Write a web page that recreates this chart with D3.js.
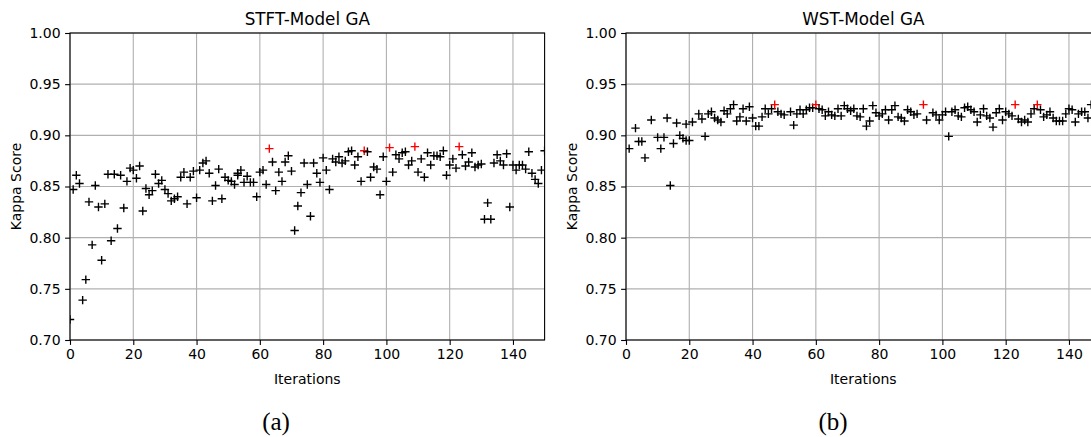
<!DOCTYPE html>
<html>
<head>
<meta charset="utf-8">
<script src="https://cdn.jsdelivr.net/npm/d3@7"></script>
<style>
  html, body { margin: 0; padding: 0; background: #fff; }
  svg { display: block; }
  text { font-family: "DejaVu Sans", sans-serif; fill: #000; }
  .caption { font-family: "Liberation Serif", "DejaVu Serif", serif; }
</style>
</head>
<body>
<svg id="fig" width="1091" height="437"></svg>
<script>
// Axis ticks shared by both panels
const xTicks = [0, 20, 40, 60, 80, 100, 120, 140];
const yTicks = [0.70, 0.75, 0.80, 0.85, 0.90, 0.95, 1.00];

// STFT model: kappa score of each evaluated individual per GA iteration
const stftIter = [
  0, 1, 2, 3, 4, 5, 6, 7, 8, 9, 10, 11, 12, 13, 14, 15, 16, 17, 18, 19,
  20, 21, 22, 23, 24, 25, 26, 27, 28, 29, 30, 31, 32, 33, 34, 35, 36, 37, 38, 39,
  40, 41, 42, 43, 44, 45, 46, 47, 48, 49, 50, 51, 52, 53, 53, 54, 55, 56, 57, 58, 59,
  60, 61, 62, 63, 64, 65, 66, 67, 68, 69, 70, 71, 72, 73, 74, 75, 76, 77, 78, 79,
  80, 81, 82, 83, 84, 85, 86, 87, 88, 89, 90, 91, 92, 93, 94, 95, 96, 97, 98, 99,
  100, 101, 102, 103, 104, 105, 106, 107, 108, 109, 110, 111, 112, 113, 114, 115, 116, 117, 118, 119,
  120, 121, 122, 123, 124, 125, 126, 127, 128, 129, 130, 131, 132, 133, 134, 135, 136, 137, 138, 139,
  140, 141, 142, 143, 144, 145, 146, 147, 148, 149, 150
];
const stftKappa = [
  0.720, 0.847, 0.861, 0.853, 0.739, 0.759, 0.835, 0.793, 0.851, 0.830, 0.778, 0.833, 0.862, 0.797, 0.862, 0.809, 0.861, 0.829, 0.855, 0.868,
  0.866, 0.858, 0.870, 0.826, 0.848, 0.842, 0.846, 0.862, 0.853, 0.856, 0.847, 0.843, 0.836, 0.838, 0.840, 0.859, 0.864, 0.833, 0.859, 0.865,
  0.839, 0.866, 0.873, 0.875, 0.863, 0.836, 0.851, 0.867, 0.838, 0.859, 0.856, 0.855, 0.852, 0.861, 0.863, 0.866, 0.854, 0.860, 0.854, 0.854, 0.840,
  0.864, 0.866, 0.852, 0.887, 0.874, 0.846, 0.864, 0.855, 0.874, 0.880, 0.865, 0.807, 0.831, 0.844, 0.873, 0.852, 0.821, 0.873, 0.863, 0.854,
  0.878, 0.866, 0.847, 0.877, 0.874, 0.879, 0.873, 0.875, 0.884, 0.885, 0.871, 0.879, 0.855, 0.885, 0.884, 0.859, 0.869, 0.867, 0.842, 0.879,
  0.855, 0.888, 0.864, 0.881, 0.877, 0.883, 0.884, 0.871, 0.875, 0.889, 0.864, 0.877, 0.859, 0.883, 0.871, 0.880, 0.880, 0.879, 0.885, 0.861,
  0.871, 0.877, 0.868, 0.889, 0.881, 0.870, 0.874, 0.883, 0.869, 0.871, 0.872, 0.818, 0.834, 0.818, 0.873, 0.881, 0.875, 0.871, 0.882, 0.830,
  0.871, 0.866, 0.871, 0.871, 0.867, 0.884, 0.863, 0.857, 0.853, 0.866, 0.885
];
const stftBestIter = [63, 93, 101, 109, 123];

// WST model
const wstIter = [
  1, 3, 4, 5, 6, 8, 10, 11, 12, 13, 14, 15, 16, 17, 18, 19, 19, 20,
  21, 23, 24, 25, 26, 27, 28, 29, 30, 31, 32, 33, 34, 35, 36, 37, 38, 39, 40,
  41, 42, 43, 44, 45, 46, 47, 48, 49, 50, 52, 53, 54, 55, 56, 57, 58, 59, 60,
  61, 62, 63, 64, 65, 66, 67, 68, 69, 70, 71, 72, 73, 74, 75, 76, 77, 78, 79, 80,
  81, 82, 83, 84, 85, 86, 87, 88, 89, 90, 91, 92, 94, 95, 97, 98, 99, 100,
  101, 102, 103, 104, 105, 106, 107, 108, 109, 110, 111, 112, 113, 114, 115, 116, 117, 118, 119, 120,
  121, 122, 123, 124, 125, 126, 127, 128, 129, 130, 131, 132, 133, 134, 135, 136, 137, 138, 139, 140,
  141, 142, 143, 144, 145, 146, 147
];
const wstKappa = [
  0.887, 0.907, 0.894, 0.894, 0.878, 0.915, 0.898, 0.887, 0.898, 0.917, 0.851, 0.892, 0.912, 0.900, 0.897, 0.911, 0.895, 0.895,
  0.913, 0.921, 0.916, 0.899, 0.921, 0.923, 0.917, 0.915, 0.913, 0.924, 0.921, 0.926, 0.930, 0.914, 0.918, 0.926, 0.914, 0.928, 0.917,
  0.909, 0.909, 0.918, 0.926, 0.921, 0.926, 0.930, 0.923, 0.921, 0.920, 0.923, 0.910, 0.921, 0.925, 0.921, 0.925, 0.927, 0.927, 0.930,
  0.926, 0.925, 0.919, 0.923, 0.920, 0.919, 0.926, 0.919, 0.929, 0.926, 0.924, 0.926, 0.919, 0.918, 0.926, 0.909, 0.914, 0.929, 0.922, 0.919,
  0.921, 0.925, 0.915, 0.925, 0.929, 0.918, 0.917, 0.914, 0.925, 0.923, 0.920, 0.921, 0.930, 0.915, 0.922, 0.920, 0.915, 0.920,
  0.923, 0.899, 0.923, 0.925, 0.919, 0.918, 0.927, 0.928, 0.925, 0.923, 0.913, 0.920, 0.926, 0.919, 0.917, 0.908, 0.922, 0.926, 0.915, 0.923,
  0.921, 0.919, 0.930, 0.916, 0.913, 0.915, 0.913, 0.921, 0.926, 0.930, 0.925, 0.918, 0.920, 0.923, 0.917, 0.914, 0.914, 0.914, 0.921, 0.926,
  0.925, 0.913, 0.921, 0.923, 0.923, 0.917, 0.930
];
const wstBestIter = [47, 60, 94, 123, 130];

const svg = d3.select("#fig");
svg.append("rect").attr("width", 1091).attr("height", 437).attr("fill", "#fff");

const plotTop = 33, plotBottom = 340, plotWidth = 474.6;

function drawPanel(id, left, title, caption, captionX, iters, kappas, bestIters) {
  const x = d3.scaleLinear().domain([0, 150]).range([left, left + plotWidth]);
  const y = d3.scaleLinear().domain([0.70, 1.00]).range([plotBottom, plotTop]);
  const g = svg.append("g");

  // grid
  g.append("g").selectAll("line").data(xTicks).join("line")
    .attr("x1", d => x(d)).attr("x2", d => x(d))
    .attr("y1", plotTop).attr("y2", plotBottom)
    .attr("stroke", "#b0b0b0").attr("stroke-width", 1.1);
  g.append("g").selectAll("line").data(yTicks).join("line")
    .attr("x1", left).attr("x2", left + plotWidth)
    .attr("y1", d => y(d)).attr("y2", d => y(d))
    .attr("stroke", "#b0b0b0").attr("stroke-width", 1.1);

  // markers, clipped to the axes area
  const clipId = "clip-" + id;
  svg.append("defs").append("clipPath").attr("id", clipId)
    .append("rect").attr("x", left).attr("y", plotTop)
    .attr("width", plotWidth).attr("height", plotBottom - plotTop);
  const pts = iters.map((it, i) => ({ it, k: kappas[i], best: bestIters.includes(it) }));
  const s = 4.2;
  g.append("g").attr("clip-path", `url(#${clipId})`)
    .selectAll("path").data(pts).join("path")
    .attr("d", d => {
      const cx = x(d.it), cy = y(d.k);
      return `M${cx - s},${cy}H${cx + s}M${cx},${cy - s}V${cy + s}`;
    })
    .attr("fill", "none")
    .attr("stroke", d => d.best ? "#ff0000" : "#000")
    .attr("stroke-width", 1.4);

  // axes
  const xAxis = d3.axisBottom(x).tickValues(xTicks).tickFormat(d3.format("d"))
    .tickSizeOuter(0).tickSize(4.9).tickPadding(4.5);
  const yAxis = d3.axisLeft(y).tickValues(yTicks).tickFormat(d3.format(".2f"))
    .tickSizeOuter(0).tickSize(4.9).tickPadding(4.5);
  const gx = g.append("g").attr("transform", `translate(0,${plotBottom})`).call(xAxis);
  const gy = g.append("g").attr("transform", `translate(${left},0)`).call(yAxis);
  [gx, gy].forEach(a => {
    a.select(".domain").remove();
    a.selectAll(".tick line").attr("stroke", "#000").attr("stroke-width", 1.1);
    a.selectAll(".tick text").attr("font-family", "DejaVu Sans").attr("font-size", 14).attr("fill", "#000");
  });

  // spines
  g.append("rect").attr("x", left).attr("y", plotTop)
    .attr("width", plotWidth).attr("height", plotBottom - plotTop)
    .attr("fill", "none").attr("stroke", "#000").attr("stroke-width", 1.1);

  // labels
  g.append("text").attr("x", left + plotWidth / 2).attr("y", 25)
    .attr("text-anchor", "middle").attr("font-size", 16.8).text(title);
  g.append("text").attr("x", left + plotWidth / 2).attr("y", 384)
    .attr("text-anchor", "middle").attr("font-size", 14).text("Iterations");
  g.append("text")
    .attr("transform", `translate(${left - 49},${(plotTop + plotBottom) / 2}) rotate(-90)`)
    .attr("text-anchor", "middle").attr("font-size", 14).text("Kappa Score");
  g.append("text").attr("class", "caption").attr("x", captionX).attr("y", 430)
    .attr("text-anchor", "middle").attr("font-size", 25).text(caption);
}

drawPanel("a", 70, "STFT-Model GA", "(a)", 276, stftIter, stftKappa, stftBestIter);
drawPanel("b", 626, "WST-Model GA", "(b)", 833, wstIter, wstKappa, wstBestIter);
</script>
</body>
</html>
